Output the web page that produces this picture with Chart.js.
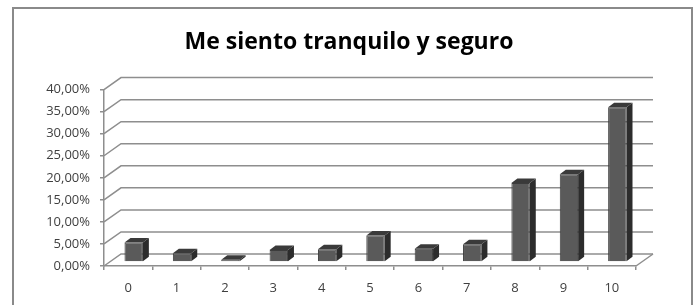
<!DOCTYPE html>
<html>
<head>
<meta charset="utf-8">
<title>Me siento tranquilo y seguro</title>
<script src="https://cdn.jsdelivr.net/npm/chart.js@4.4.1/dist/chart.umd.min.js"></script>
<style>
  html, body { margin: 0; padding: 0; background: #fff; }
  canvas { display: block; }
</style>
</head>
<body>
<canvas id="chart" width="698" height="305"></canvas>
<script>
// Data (percent of answers per score)
const categories = ['0', '1', '2', '3', '4', '5', '6', '7', '8', '9', '10'];
const percentages = [4.4, 2.0, 0.5, 2.7, 2.9, 6.0, 3.0, 4.0, 17.9, 19.9, 35.1];
const yMin = 0;
const yMax = 40;
const yStep = 5;

// Fake 3D geometry (pixels)
const WALL_DX = 17;      // back wall offset
const WALL_DY = 12;
const BAR_SHIFT_X = 5.5; // bars stand in the middle of the floor
const BAR_SHIFT_Y = 4;
const BAR_DEPTH_X = 6;
const BAR_DEPTH_Y = 4.5;

const gridColor = '#8e8e8e';
const textColor = '#3f3f3f';
const fontFamily = "'Open Sans', 'Liberation Sans', sans-serif";

function pct(v) {
    return v.toFixed(2).replace('.', ',') + '%';
}

function poly(ctx, pts, fill) {
    ctx.beginPath();
    ctx.moveTo(pts[0][0], pts[0][1]);
    for (let i = 1; i < pts.length; i++) ctx.lineTo(pts[i][0], pts[i][1]);
    ctx.closePath();
    ctx.fillStyle = fill;
    ctx.fill();
}

const pseudo3d = {
    id: 'pseudo3d',
    beforeDatasetsDraw(chart) {
        const { ctx, chartArea, scales: { y } } = chart;
        ctx.save();
        ctx.strokeStyle = gridColor;
        ctx.lineWidth = 1.5;
        // back wall gridlines + left wall diagonals
        y.ticks.forEach(t => {
            const py = y.getPixelForValue(t.value);
            ctx.beginPath();
            ctx.moveTo(chartArea.left, py);
            ctx.lineTo(chartArea.left + WALL_DX, py - WALL_DY);
            ctx.lineTo(chartArea.right + WALL_DX, py - WALL_DY);
            ctx.stroke();
        });
        // right edge of the floor
        const base = y.getPixelForValue(0);
        ctx.beginPath();
        ctx.moveTo(chartArea.right, base);
        ctx.lineTo(chartArea.right + WALL_DX, base - WALL_DY);
        ctx.stroke();
        ctx.restore();

        // bars are drawn a bit into the floor
        ctx.save();
        ctx.translate(BAR_SHIFT_X, -BAR_SHIFT_Y);
    },
    afterDatasetsDraw(chart) {
        const { ctx } = chart;
        chart.getDatasetMeta(0).data.forEach(bar => {
            const { x, y, base, width } = bar.getProps(['x', 'y', 'base', 'width'], true);
            const l = x - width / 2;
            const r = x + width / 2;
            // side face
            poly(ctx, [[r, y], [r + BAR_DEPTH_X, y - BAR_DEPTH_Y],
                [r + BAR_DEPTH_X, base - BAR_DEPTH_Y], [r, base]], '#2c2c2c');
            // top face
            poly(ctx, [[l, y], [l + BAR_DEPTH_X, y - BAR_DEPTH_Y],
                [r + BAR_DEPTH_X, y - BAR_DEPTH_Y], [r, y]], '#3a3a3a');
        });
        ctx.restore();
    },
    afterDraw(chart) {
        const { ctx } = chart;
        ctx.save();
        ctx.strokeStyle = '#8a8a8a';
        ctx.lineWidth = 2;
        ctx.strokeRect(13, 8, 679, 400);
        ctx.restore();
    }
};

const ctx = document.getElementById('chart');
const chart = new Chart(ctx, {
    type: 'bar',
    data: {
        labels: categories,
        datasets: [{
            data: percentages,
            backgroundColor: '#5a5a5a',
            borderColor: '#3c3c3c',
            borderWidth: 1,
            categoryPercentage: 1,
            barPercentage: 0.38,
            clip: false
        }]
    },
    options: {
        responsive: false,
        animation: false,
        layout: {
            padding: 0
        },
        plugins: {
            legend: { display: false },
            tooltip: { enabled: false },
            title: {
                display: true,
                text: 'Me siento tranquilo y seguro',
                color: '#000',
                font: { family: fontFamily, size: 23, weight: 'bold' },
                padding: { top: 29, bottom: 33 }
            }
        },
        scales: {
            x: {
                grid: {
                    display: true,
                    drawOnChartArea: false,
                    drawTicks: true,
                    tickLength: 4,
                    color: gridColor,
                    lineWidth: 1.5
                },
                border: { display: true, color: gridColor, width: 1.5 },
                ticks: {
                    color: textColor,
                    padding: 10,
                    font: { family: fontFamily, size: 13 }
                },
                afterFit(scale) { scale.height = 39; }
            },
            y: {
                min: yMin,
                max: yMax,
                grid: {
                    display: true,
                    drawOnChartArea: false,
                    drawTicks: true,
                    tickLength: 4,
                    color: gridColor,
                    lineWidth: 1.5
                },
                border: { display: true, color: gridColor, width: 1.5 },
                ticks: {
                    stepSize: yStep,
                    color: textColor,
                    padding: 10,
                    font: { family: fontFamily, size: 13 },
                    callback: v => pct(v)
                },
                afterFit(scale) { scale.width = 104; }
            },
            // empty spacer on the right so the title centres on the whole frame
            spacer: {
                position: 'right',
                grid: { display: false },
                border: { display: false },
                ticks: { display: false },
                afterFit(scale) { scale.width = 62; }
            }
        }
    },
    plugins: [pseudo3d]
});
</script>
</body>
</html>
